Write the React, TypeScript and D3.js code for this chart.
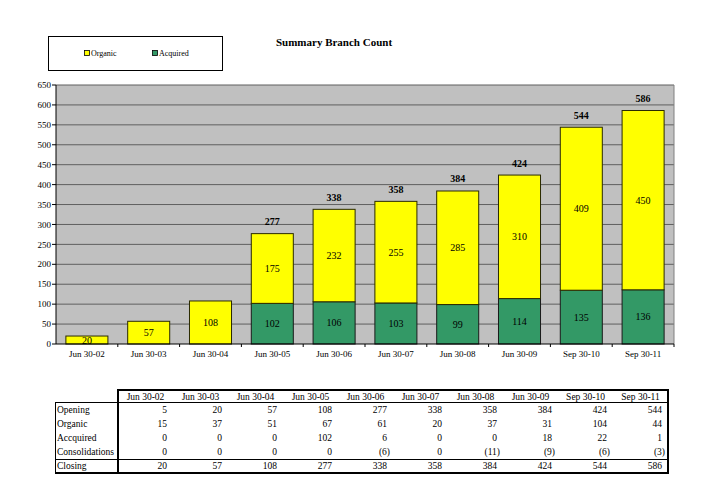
import { scaleBand, scaleLinear, range } from "d3";

const categories = [
  "Jun 30-02",
  "Jun 30-03",
  "Jun 30-04",
  "Jun 30-05",
  "Jun 30-06",
  "Jun 30-07",
  "Jun 30-08",
  "Jun 30-09",
  "Sep 30-10",
  "Sep 30-11",
];
// chart series (cumulative branch counts)
const acquired = [0, 0, 0, 102, 106, 103, 99, 114, 135, 136];
const organic = [20, 57, 108, 175, 232, 255, 285, 310, 409, 450];
// table rows
const opening = [5, 20, 57, 108, 277, 338, 358, 384, 424, 544];
const organicAdds = [15, 37, 51, 67, 61, 20, 37, 31, 104, 44];
const acquiredAdds = [0, 0, 0, 102, 6, 0, 0, 18, 22, 1];
const consolidations = [0, 0, 0, 0, -6, 0, -11, -9, -6, -3];
const closing = [20, 57, 108, 277, 338, 358, 384, 424, 544, 586];
const yTicks = range(0, 651, 50);

const FONT = "Liberation Serif";
const YELLOW = "#ffff00";
const GREEN = "#339966";

const fmt = (v: number) => (v < 0 ? `(${-v})` : `${v}`);

export default function App() {
  const left = 56;
  const right = 674;
  const top = 85;
  const bottom = 344;

  const x = scaleBand<string>()
    .domain(categories)
    .range([left, right])
    .paddingInner(0.32)
    .paddingOuter(0.16);
  const y = scaleLinear().domain([0, 650]).range([bottom, top]);

  // table layout
  const col = scaleBand<string>().domain(categories).range([118, 668]);
  const rows = [
    { label: "Opening", values: opening },
    { label: "Organic", values: organicAdds },
    { label: "Accquired", values: acquiredAdds },
    { label: "Consolidations", values: consolidations },
    { label: "Closing", values: closing },
  ];
  const rowY = [410, 424, 438, 452, 466];

  return (
    <div style={{ position: "absolute", left: 0, top: 0 }}>
      <svg width={712} height={488} style={{ display: "block", background: "#fff", fontFamily: FONT }}>
        {/* legend */}
        <rect x={48.5} y={36.5} width={174} height={34} fill="#fff" stroke="#000" />
        <rect x={84.5} y={50.5} width={5} height={5} fill={YELLOW} stroke="#000" strokeWidth={0.8} />
        <text x={91} y={56} fontSize={8} fill="#000">Organic</text>
        <rect x={152.5} y={50.5} width={5} height={5} fill={GREEN} stroke="#000" strokeWidth={0.8} />
        <text x={159} y={56} fontSize={8} fill="#000">Acquired</text>

        <text x={334} y={46} fontSize={11} fontWeight="bold" textAnchor="middle">
          Summary Branch Count
        </text>

        {/* plot area */}
        <rect x={left} y={top} width={right - left} height={bottom - top} fill="#c0c0c0" />
        {yTicks.slice(1).map((t) => (
          <line key={t} x1={left} x2={right} y1={y(t)} y2={y(t)} stroke="#5f5f5f" strokeWidth={1} />
        ))}
        <line x1={right} x2={right} y1={top} y2={bottom} stroke="#808080" />

        {/* bars */}
        {categories.map((c, i) => {
          const bx = x(c)!;
          const bw = x.bandwidth();
          const total = acquired[i] + organic[i];
          return (
            <g key={c}>
              {acquired[i] > 0 && (
                <rect x={bx} y={y(acquired[i])} width={bw} height={y(0) - y(acquired[i])} fill={GREEN} stroke="#1a1a1a" />
              )}
              <rect x={bx} y={y(total)} width={bw} height={y(acquired[i]) - y(total)} fill={YELLOW} stroke="#2a2a00" />
              {acquired[i] > 0 && (
                <text x={bx + bw / 2} y={y(acquired[i] / 2)} dy="0.35em" fontSize={10} textAnchor="middle">
                  {acquired[i]}
                </text>
              )}
              <text x={bx + bw / 2} y={y(acquired[i] + organic[i] / 2)} dy="0.35em" fontSize={10} textAnchor="middle">
                {organic[i]}
              </text>
              {acquired[i] > 0 && (
                <text x={bx + bw / 2} y={y(total) - 12} dy="0.35em" fontSize={10} fontWeight="bold" textAnchor="middle">
                  {total}
                </text>
              )}
            </g>
          );
        })}

        {/* axes */}
        <line x1={left} x2={left} y1={top} y2={bottom} stroke="#000" />
        <line x1={left} x2={right} y1={bottom} y2={bottom} stroke="#000" />
        {yTicks.map((t) => (
          <g key={t}>
            <line x1={left - 4} x2={left} y1={y(t)} y2={y(t)} stroke="#000" />
            <text x={51} y={y(t)} dy="0.35em" fontSize={9} textAnchor="end">
              {t}
            </text>
          </g>
        ))}
        {categories.map((c, i) => (
          <g key={c}>
            <line x1={left + x.step() * (i + 1)} x2={left + x.step() * (i + 1)} y1={bottom} y2={bottom + 3} stroke="#000" />
            <text x={x(c)! + x.bandwidth() / 2} y={354} dy="0.35em" fontSize={9} textAnchor="middle">
              {c}
            </text>
          </g>
        ))}

        {/* table */}
        {categories.map((c) => (
          <text key={c} x={col(c)! + col.bandwidth() / 2} y={397} dy="0.35em" fontSize={9.5} textAnchor="middle">
            {c}
          </text>
        ))}
        {rows.map((r, ri) => (
          <g key={r.label}>
            <text x={57} y={rowY[ri]} dy="0.35em" fontSize={9.5}>
              {r.label}
            </text>
            {r.values.map((v, ci) => (
              <text
                key={ci}
                x={col(categories[ci])! + col.bandwidth() - (v < 0 ? 3 : 6)}
                y={rowY[ri]}
                dy="0.35em"
                fontSize={9.5}
                textAnchor="end"
              >
                {fmt(v)}
              </text>
            ))}
          </g>
        ))}
        <line x1={55} x2={668} y1={402.5} y2={402.5} stroke="#000" />
        <line x1={55} x2={668} y1={459.5} y2={459.5} stroke="#000" />
        <line x1={55.5} x2={55.5} y1={402} y2={474} stroke="#000" />
        <line x1={117} x2={669} y1={390} y2={390} stroke="#000" strokeWidth={2} />
        <line x1={55} x2={669} y1={473} y2={473} stroke="#000" strokeWidth={2} />
        <line x1={118} x2={118} y1={389} y2={474} stroke="#000" strokeWidth={2} />
        <line x1={668} x2={668} y1={389} y2={474} stroke="#000" strokeWidth={2} />
      </svg>
    </div>
  );
}
